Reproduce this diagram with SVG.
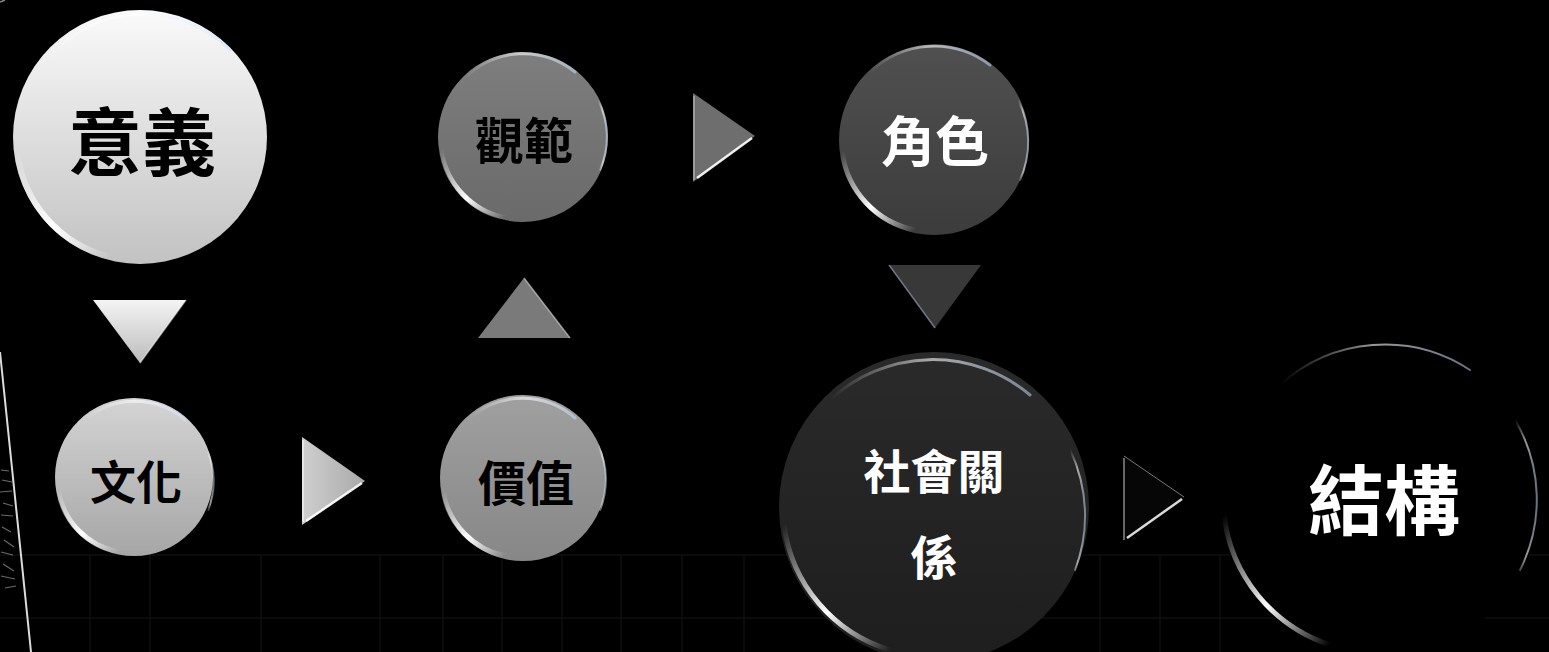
<svg xmlns="http://www.w3.org/2000/svg" width="1549" height="652" viewBox="0 0 1549 652">
<defs>
<style>
.t{font-family:"Noto Sans CJK TC","Noto Sans CJK SC",sans-serif;font-weight:700;text-anchor:middle;dominant-baseline:central}
.dk{fill:#000}
.wh{fill:#fff}
.hl{fill:none;stroke:url(#hlg);stroke-linecap:round}
.rim{fill:none;stroke:url(#rimg);stroke-linecap:round}
.grid{stroke:#0f0f0f;stroke-width:1.5}
</style>
<linearGradient id="g1" x1="0" y1="0" x2="0" y2="1"><stop offset="0" stop-color="#fafafa"/><stop offset="1" stop-color="#c2c2c2"/></linearGradient>
<linearGradient id="g2" x1="0" y1="0" x2="0" y2="1"><stop offset="0" stop-color="#7e7e7e"/><stop offset="1" stop-color="#6a6a6a"/></linearGradient>
<linearGradient id="g3" x1="0" y1="0" x2="0" y2="1"><stop offset="0" stop-color="#505050"/><stop offset="1" stop-color="#3c3c3c"/></linearGradient>
<linearGradient id="g4" x1="0" y1="0" x2="0" y2="1"><stop offset="0" stop-color="#d4d4d4"/><stop offset="1" stop-color="#a6a6a6"/></linearGradient>
<linearGradient id="g5" x1="0" y1="0" x2="0" y2="1"><stop offset="0" stop-color="#a0a0a0"/><stop offset="1" stop-color="#878787"/></linearGradient>
<linearGradient id="g6" x1="0" y1="0" x2="0" y2="1"><stop offset="0" stop-color="#2a2a2a"/><stop offset="1" stop-color="#1e1e1e"/></linearGradient>
<linearGradient id="hlg" x1="0" y1="0" x2="1" y2="1"><stop offset="0" stop-color="#fff" stop-opacity="0"/><stop offset="0.55" stop-color="#fff" stop-opacity="1"/><stop offset="1" stop-color="#fff" stop-opacity="0"/></linearGradient>
<linearGradient id="rimg" x1="0" y1="0" x2="1" y2="0"><stop offset="0" stop-color="#fff" stop-opacity="0"/><stop offset="0.5" stop-color="#fff" stop-opacity="0.6"/><stop offset="1" stop-color="#cfe3ff" stop-opacity="0.5"/></linearGradient>
<linearGradient id="tw" x1="0" y1="0" x2="0" y2="1"><stop offset="0" stop-color="#f4f4f4"/><stop offset="1" stop-color="#bcbcbc"/></linearGradient>
<linearGradient id="tl" x1="0" y1="0" x2="1" y2="0"><stop offset="0" stop-color="#cfcfcf"/><stop offset="1" stop-color="#a9a9a9"/></linearGradient>
</defs>
<rect width="1549" height="652" fill="#000"/>
<g id="background">
<g class="grid">
<line x1="0" y1="555" x2="1549" y2="555"/>
<line x1="0" y1="618" x2="1549" y2="618"/>
<line x1="90" y1="555" x2="90" y2="652"/><line x1="150" y1="555" x2="150" y2="652"/><line x1="261" y1="555" x2="261" y2="652"/><line x1="380" y1="555" x2="380" y2="652"/><line x1="443" y1="555" x2="443" y2="652"/><line x1="502" y1="555" x2="502" y2="652"/><line x1="562" y1="555" x2="562" y2="652"/><line x1="621" y1="555" x2="621" y2="652"/><line x1="682" y1="555" x2="682" y2="652"/><line x1="744" y1="555" x2="744" y2="652"/><line x1="1100" y1="555" x2="1100" y2="652"/><line x1="1160" y1="555" x2="1160" y2="652"/><line x1="1220" y1="555" x2="1220" y2="652"/>
</g>
<path d="M0,352 L31,652" stroke="#dcdcdc" stroke-width="2" fill="none"/>
<path d="M1,470 l8,1 M2,480 l10,2 M0,492 l12,-1 M3,503 l10,3 M1,515 l12,1 M2,527 l9,5 M4,540 l10,7 M1,552 l12,3 M3,564 l11,7 M1,576 l14,3 M5,588 l11,-2" stroke="#b0b0b0" stroke-width="1.2" fill="none" opacity="0.6"/>
<path d="M0,2 l5,-2" stroke="#888" stroke-width="1.5"/>
</g>
<g id="connectors">
<polygon points="93,300 186,300 140,363" fill="url(#tw)"/>
<path d="M140,363 L186,300" stroke="#fff" stroke-width="1.5" opacity="0.5"/>
<polygon points="478,338 570,338 524,278" fill="#7a7a7a"/>
<path d="M524,278 L570,338" stroke="#ddd" stroke-width="1.5" opacity="0.6"/>
<polygon points="693,93 755,136 693,182" fill="#6e6e6e"/>
<path d="M697,178 L752,138" stroke="#fff" stroke-width="2.5" opacity="0.9"/>
<path d="M694,96 L694,180" stroke="#aaa" stroke-width="1.5"/>
<polygon points="889,265 981,265 935,328" fill="#383838"/>
<path d="M889,265 L935,328" stroke="#8aa0b0" stroke-width="1.5" opacity="0.7"/>
<polygon points="302,437 365,481 302,525" fill="url(#tl)"/>
<path d="M306,521 L362,483" stroke="#fff" stroke-width="2.5" opacity="0.9"/>
<path d="M303,440 L303,522" stroke="#eee" stroke-width="1.5"/>
<polygon points="1123,455 1185,497 1123,542" fill="#060606"/>
<path d="M1127,538 L1182,499" stroke="#fff" stroke-width="2.5" opacity="0.85"/>
<path d="M1124,458 L1124,540" stroke="#888" stroke-width="1.5"/>
<path d="M1124,456 L1184,497" stroke="#777" stroke-width="1"/>
</g>
<g id="node-yiyi">
<circle cx="140" cy="137" r="127" fill="url(#g1)"/>
<path d="M17,150 A123,123 0 0 0 110,257" class="hl" stroke-width="6"/>
<path d="M40,70 A123,123 0 0 1 230,50" class="rim" stroke-width="3"/>
<text x="142" y="137" class="t dk" font-size="74">意義</text>
</g>
<g id="node-guanfan">
<circle cx="523" cy="137" r="85" fill="url(#g2)"/>
<path d="M441,150 A82,82 0 0 0 505,218" class="hl" stroke-width="5"/>
<path d="M465,78 A82,82 0 0 1 575,72" class="rim" stroke-width="3"/>
<path d="M598,100 A82,82 0 0 1 600,170" class="rim" stroke-width="2"/>
<text x="524" y="137" class="t dk" font-size="49">觀範</text>
</g>
<g id="node-jiaose">
<circle cx="934" cy="140" r="95" fill="url(#g3)"/>
<path d="M842,152 A92,92 0 0 0 915,230" class="hl" stroke-width="5"/>
<path d="M870,72 A92,92 0 0 1 990,65" class="rim" stroke-width="3"/>
<path d="M1018,100 A92,92 0 0 1 1020,180" class="rim" stroke-width="2"/>
<text x="935" y="138" class="t wh" font-size="54">角色</text>
</g>
<g id="node-wenhua">
<circle cx="134" cy="477" r="79" fill="url(#g4)"/>
<path d="M58,490 A76,76 0 0 0 118,552" class="hl" stroke-width="5"/>
<path d="M85,420 A76,76 0 0 1 185,420" class="rim" stroke-width="3"/>
<path d="M207,450 A76,76 0 0 1 208,510" class="rim" stroke-width="2"/>
<text x="136" y="479" class="t dk" font-size="46">文化</text>
</g>
<g id="node-jiazhi">
<circle cx="523" cy="478" r="83" fill="url(#g5)"/>
<path d="M443,492 A80,80 0 0 0 505,556" class="hl" stroke-width="5"/>
<path d="M470,418 A80,80 0 0 1 575,418" class="rim" stroke-width="3"/>
<path d="M598,445 A80,80 0 0 1 600,510" class="rim" stroke-width="2"/>
<text x="526" y="480" class="t dk" font-size="48">價值</text>
</g>
<g id="node-shehuiguanxi">
<circle cx="934" cy="507" r="155" fill="url(#g6)"/>
<path d="M784,525 A151,151 0 0 0 890,650" class="hl" stroke-width="5"/>
<path d="M830,400 A151,151 0 0 1 1030,395" class="rim" stroke-width="3"/>
<path d="M1070,450 A151,151 0 0 1 1075,570" class="rim" stroke-width="2"/>
<text class="t wh" font-size="47"><tspan x="934" y="468">社會關</tspan><tspan x="934" y="554">係</tspan></text>
</g>
<g id="node-jiegou">
<circle cx="1380" cy="497" r="160" fill="#000"/>
<path d="M1224,515 A156,156 0 0 0 1330,645" class="hl" stroke-width="5"/>
<path d="M1280,385 A156,156 0 0 1 1470,370" class="rim" stroke-width="2"/>
<path d="M1515,420 A156,156 0 0 1 1520,570" class="rim" stroke-width="2"/>
<text x="1384" y="496" class="t wh" font-size="76">結構</text>
</g>
</svg>
